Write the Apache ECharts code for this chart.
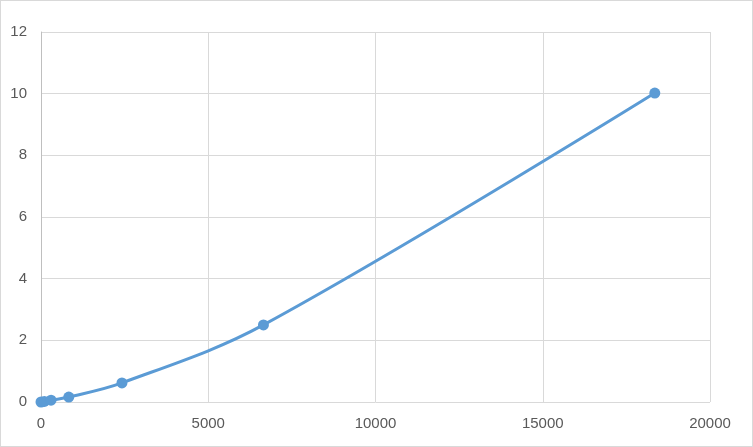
<!DOCTYPE html>
<html><head><meta charset="utf-8">
<script src="https://cdn.jsdelivr.net/npm/echarts@6/dist/echarts.min.js"></script>
<style>html,body{margin:0;padding:0;background:#fff}#c{width:753px;height:447px;box-sizing:border-box;border:1px solid #d9d9d9}</style>
</head><body><div id="c"></div>
<script>
const xValues = [0, 100, 300, 830, 2420, 6650, 18350];
const yValues = [0, 0.02, 0.06, 0.16, 0.62, 2.5, 10.02];
const xTicks = [0, 5000, 10000, 15000, 20000];
const yTicks = [0, 2, 4, 6, 8, 10, 12];
const chart = echarts.init(document.getElementById('c'));
chart.setOption({
  animation: false,
  grid: {left: 40, right: 42, top: 31, bottom: 44},
  xAxis: {type: 'value', min: 0, max: 20000, interval: 5000,
    axisLine: {show: false}, axisTick: {show: false},
    splitLine: {lineStyle: {color: '#d9d9d9', width: 1}},
    axisLabel: {color: '#595959', fontSize: 15, fontFamily: 'Liberation Sans', margin: 14, formatter: v => String(v)}},
  yAxis: {type: 'value', min: 0, max: 12, interval: 2,
    axisLine: {show: true, lineStyle: {color: '#bfbfbf', width: 1}}, axisTick: {show: false},
    splitLine: {lineStyle: {color: '#d9d9d9', width: 1}},
    axisLabel: {color: '#595959', fontSize: 15, fontFamily: 'Liberation Sans', margin: 14, formatter: v => String(v)}},
  series: [{type: 'line', data: xValues.map((x, i) => [x, yValues[i]]),
    smooth: 0.35, symbol: 'circle', symbolSize: 11,
    lineStyle: {color: '#5b9bd5', width: 3}, itemStyle: {color: '#5b9bd5'}}]
});
</script></body></html>
